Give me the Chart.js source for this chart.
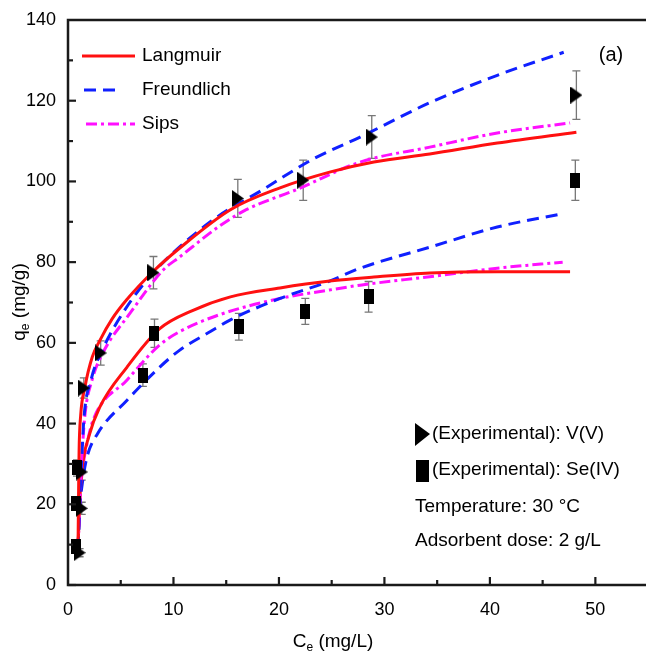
<!DOCTYPE html>
<html>
<head>
<meta charset="utf-8">
<script src="https://cdn.jsdelivr.net/npm/chart.js@4.4.1/dist/chart.umd.min.js"></script>
<style>
  html, body { margin: 0; padding: 0; background: #fff; }
  #caixa { width: 646px; height: 654px; }
</style>
</head>
<body>
<div id="caixa"><canvas id="grafico" width="646" height="654"></canvas></div>
<script>
// pontos experimentais
const vCe = [1.1, 1.3, 1.3, 1.5, 3.1, 8.1, 16.1, 22.3, 28.8, 48.2];
const vQe = [8, 19, 28, 48.8, 57.5, 77.4, 95.8, 100.3, 111, 121.4];
const vErr = [1, 1.5, 2, 2.5, 3, 4, 4.7, 5, 5.3, 6];
const seCe = [0.8, 0.8, 0.85, 7.1, 8.2, 16.2, 22.5, 28.5, 48.1];
const seQe = [9.5, 20.3, 29, 52, 62.4, 64, 67.8, 71.4, 100.3];
const seErr = [1, 1.5, 2, 2.8, 3.5, 3.3, 3.2, 3.8, 5];

// curvas - V(V)
const vLangX = [0.95, 1.0, 1.05, 1.2, 1.6, 2.3, 3.0, 4.2, 5.6, 8.0, 10.6, 15.4, 20.1, 24.8, 29, 34.3, 40.7, 48.2];
const vLangY = [9, 22, 33, 42, 49, 56.5, 60.5, 66, 70.8, 77.5, 83.5, 93, 98.4, 102.3, 104.8, 106.8, 109.5, 112.2];
const vFreuX = [0.95, 1.1, 1.3, 1.5, 2.2, 3.3, 5.6, 8.1, 13.5, 18.5, 23.2, 27.7, 34.3, 40.7, 47];
const vFreuY = [9, 20, 31, 41, 51, 58.5, 69, 77.4, 90, 98, 105.5, 111, 119.5, 126.3, 132];
const vSipsX = [0.95, 1.1, 1.3, 1.6, 2.3, 3.3, 5.9, 9, 10.6, 14.4, 16.9, 21.7, 27.7, 34.3, 40.7, 47.6];
const vSipsY = [9, 20, 31, 42, 51, 57.5, 67.4, 78, 81.3, 89, 93, 98, 104.8, 108.5, 112, 114.5];

// curvas - Se(IV)
const seLangX = [0.95, 1.1, 1.3, 2.0, 3.0, 5.6, 8.7, 11.8, 15.4, 20.1, 24.8, 29, 34.3, 40.7, 47.6];
const seLangY = [9, 20, 28, 37, 44, 54, 63.5, 68, 71.4, 73.6, 75.3, 76.3, 77.3, 77.6, 77.6];
const seFreuX = [0.95, 1.15, 1.4, 1.8, 2.8, 5.6, 8.7, 10.6, 13.5, 15.4, 20.1, 24.8, 27.7, 34.3, 40.7, 46.9];
const seFreuY = [9, 20, 26, 31.7, 37.5, 45.8, 54, 58.2, 62.8, 65.7, 71, 75.3, 78.5, 83.7, 88.7, 92];
const seSipsX = [0.95, 1.1, 1.35, 1.8, 2.4, 5.6, 8.7, 10.6, 14.4, 20.1, 24.8, 27.7, 34.3, 40.7, 46.9];
const seSipsY = [9, 20, 28, 35, 41, 50.8, 59.5, 62.8, 67, 71, 73.1, 74.3, 76.4, 78.5, 80];

const xTicks = [0, 10, 20, 30, 40, 50];
const yTicks = [0, 20, 40, 60, 80, 100, 120, 140];

const VERMELHO = "#ff1010";
const AZUL = "#1020ff";
const MAGENTA = "#ff10ff";
const FONTE = "'Liberation Sans', Arial, sans-serif";

function pares(xs, ys) {
  return xs.map((x, i) => ({ x: x, y: ys[i] }));
}

function marcador(tipo, w, h) {
  const c = document.createElement("canvas");
  c.width = w;
  c.height = h;
  const ctx = c.getContext("2d");
  ctx.fillStyle = "#000";
  if (tipo === "tri") {
    ctx.beginPath();
    ctx.moveTo(0, 0);
    ctx.lineTo(w, h / 2);
    ctx.lineTo(0, h);
    ctx.closePath();
    ctx.fill();
  } else {
    ctx.fillRect(0, 0, w, h);
  }
  return c;
}

function curva(label, xs, ys, cor, dash) {
  return {
    label: label,
    data: pares(xs, ys),
    showLine: true,
    borderColor: cor,
    borderWidth: 3,
    borderDash: dash,
    pointRadius: 0,
    cubicInterpolationMode: "monotone",
    fill: false,
  };
}

const tracoFreu = [12, 7];
const tracoSips = [11, 4, 3, 4];

// legenda, eixos, barras de erro e textos
const desenho = {
  id: "desenho",
  beforeDatasetsDraw(chart) {
    const ctx = chart.ctx;
    const x = chart.scales.x;
    const y = chart.scales.y;
    ctx.save();
    ctx.strokeStyle = "#777";
    ctx.lineWidth = 1.3;
    const barras = (cs, qs, es) => {
      cs.forEach((c, i) => {
        const px = x.getPixelForValue(c);
        const y1 = y.getPixelForValue(qs[i] + es[i]);
        const y2 = y.getPixelForValue(qs[i] - es[i]);
        ctx.beginPath();
        ctx.moveTo(px, y1); ctx.lineTo(px, y2);
        ctx.moveTo(px - 4, y1); ctx.lineTo(px + 4, y1);
        ctx.moveTo(px - 4, y2); ctx.lineTo(px + 4, y2);
        ctx.stroke();
      });
    };
    barras(vCe, vQe, vErr);
    barras(seCe, seQe, seErr);
    ctx.restore();
  },
  afterDraw(chart) {
    const ctx = chart.ctx;
    const a = chart.chartArea;
    const x = chart.scales.x;
    const y = chart.scales.y;
    ctx.save();
    // moldura
    ctx.strokeStyle = "#1a1a1a";
    ctx.lineWidth = 2.5;
    ctx.beginPath();
    ctx.moveTo(a.right, a.top);
    ctx.lineTo(a.left, a.top);
    ctx.lineTo(a.left, a.bottom);
    ctx.lineTo(a.right, a.bottom);
    ctx.stroke();
    // marcas para dentro
    ctx.lineWidth = 2.2;
    for (let v = 0; v <= 130; v += 10) {
      const py = y.getPixelForValue(v);
      const len = v % 20 === 0 ? 8 : 5;
      ctx.beginPath();
      ctx.moveTo(a.left, py);
      ctx.lineTo(a.left + len, py);
      ctx.stroke();
    }
    for (let v = 5; v <= 50; v += 5) {
      const px = x.getPixelForValue(v);
      const len = v % 10 === 0 ? 8 : 5;
      ctx.beginPath();
      ctx.moveTo(px, a.bottom);
      ctx.lineTo(px, a.bottom - len);
      ctx.stroke();
    }

    // legenda das curvas
    ctx.lineWidth = 3;
    const itens = [
      ["Langmuir", VERMELHO, [], 82, 135, 56],
      ["Freundlich", AZUL, tracoFreu, 84, 122, 90],
      ["Sips", MAGENTA, tracoSips, 86, 135, 124],
    ];
    ctx.font = "19px " + FONTE;
    ctx.textBaseline = "middle";
    ctx.textAlign = "left";
    itens.forEach(([txt, cor, dash, x1, x2, py]) => {
      ctx.strokeStyle = cor;
      ctx.setLineDash(dash);
      ctx.beginPath();
      ctx.moveTo(x1, py);
      ctx.lineTo(x2, py);
      ctx.stroke();
      ctx.fillStyle = "#000";
      ctx.fillText(txt, 142, py);
    });
    ctx.setLineDash([]);

    // anotações embaixo à direita
    ctx.fillStyle = "#000";
    ctx.beginPath();
    ctx.moveTo(415, 423);
    ctx.lineTo(430, 434);
    ctx.lineTo(415, 446);
    ctx.closePath();
    ctx.fill();
    ctx.fillRect(416, 460, 13, 22);
    ctx.fillText("(Experimental): V(V)", 432, 434);
    ctx.fillText("(Experimental): Se(IV)", 432, 470);
    ctx.fillText("Temperature: 30 \u00b0C", 415, 507);
    ctx.fillText("Adsorbent dose: 2 g/L", 415, 541);

    ctx.font = "20px " + FONTE;
    ctx.textAlign = "center";
    ctx.fillText("(a)", 611, 55);

    // títulos dos eixos com subscrito
    const titulo = (base, sub, resto, cx, cy) => {
      ctx.font = "19px " + FONTE;
      const wb = ctx.measureText(base).width;
      const wr = ctx.measureText(resto).width;
      ctx.font = "12px " + FONTE;
      const ws = ctx.measureText(sub).width;
      let px = cx - (wb + ws + wr) / 2;
      ctx.textAlign = "left";
      ctx.textBaseline = "alphabetic";
      ctx.font = "19px " + FONTE;
      ctx.fillText(base, px, cy + 7);
      px += wb;
      ctx.font = "12px " + FONTE;
      ctx.fillText(sub, px, cy + 11);
      px += ws;
      ctx.font = "19px " + FONTE;
      ctx.fillText(resto, px, cy + 7);
    };
    titulo("C", "e", " (mg/L)", 333, 640);
    ctx.translate(20, 302);
    ctx.rotate(-Math.PI / 2);
    titulo("q", "e", " (mg/g)", 0, -2);
    ctx.restore();
  },
};

const triV = marcador("tri", 12, 17);
const quadSe = marcador("quad", 10, 15);

const grafico = new Chart(document.getElementById("grafico"), {
  type: "scatter",
  data: {
    datasets: [
      {
        label: "(Experimental): V(V)",
        data: pares(vCe, vQe),
        pointStyle: triV,
        pointRadius: 7,
        showLine: false,
      },
      {
        label: "(Experimental): Se(IV)",
        data: pares(seCe, seQe),
        pointStyle: quadSe,
        pointRadius: 7,
        showLine: false,
      },
      curva("Langmuir", vLangX, vLangY, VERMELHO, []),
      curva("Freundlich", vFreuX, vFreuY, AZUL, tracoFreu),
      curva("Sips", vSipsX, vSipsY, MAGENTA, tracoSips),
      curva("Langmuir Se", seLangX, seLangY, VERMELHO, []),
      curva("Freundlich Se", seFreuX, seFreuY, AZUL, tracoFreu),
      curva("Sips Se", seSipsX, seSipsY, MAGENTA, tracoSips),
    ],
  },
  options: {
    responsive: false,
    animation: false,
    layout: { autoPadding: false, padding: { top: 20, right: 0, left: 0, bottom: 0 } },
    plugins: {
      legend: { display: false },
      tooltip: { enabled: false },
    },
    scales: {
      x: {
        type: "linear",
        min: 0,
        max: 54.8,
        afterFit: (s) => {
          s.height = 69;
          s.paddingLeft = 0;
          s.paddingRight = 0;
        },
        afterBuildTicks: (s) => { s.ticks = xTicks.map((v) => ({ value: v })); },
        grid: { display: false, drawTicks: false },
        border: { display: false },
        ticks: {
          padding: 14,
          color: "#000",
          font: { family: FONTE, size: 18 },
        },
      },
      y: {
        type: "linear",
        min: 0,
        max: 140,
        afterFit: (s) => {
          s.width = 68;
          s.paddingTop = 0;
          s.paddingBottom = 0;
        },
        afterBuildTicks: (s) => { s.ticks = yTicks.map((v) => ({ value: v })); },
        grid: { display: false, drawTicks: false },
        border: { display: false },
        ticks: {
          padding: 12,
          color: "#000",
          font: { family: FONTE, size: 18 },
        },
      },
    },
  },
  plugins: [desenho],
});
</script>
</body>
</html>
